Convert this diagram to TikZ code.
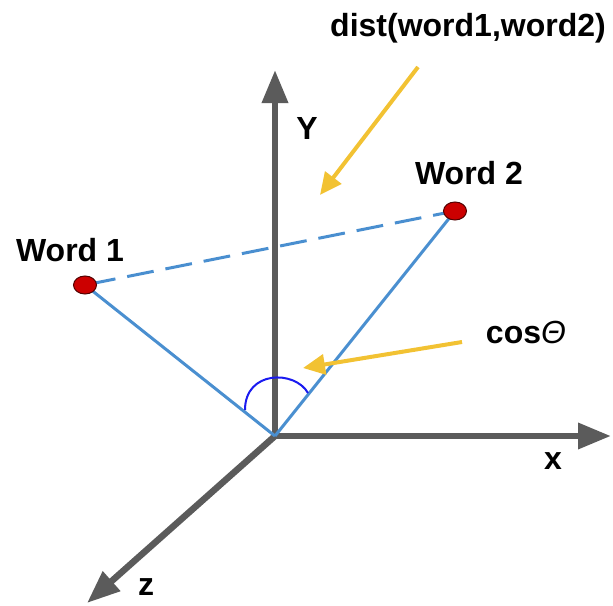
\documentclass[tikz,border=0pt]{standalone}
\usepackage{fontspec}
\setmainfont{Liberation Sans}
\usetikzlibrary{arrows.meta,shapes.geometric}
\definecolor{axisgray}{HTML}{5B5B5B}
\definecolor{vecblue}{HTML}{4A8FD0}
\definecolor{arcblue}{HTML}{1A1AF0}
\definecolor{arrowyellow}{HTML}{F2C233}
\definecolor{ptred}{HTML}{CC0000}
\tikzset{
  axis/.style={draw=axisgray, line width=6.5pt, -{Triangle[length=33pt,width=25pt]}},
  vec/.style={draw=vecblue, line width=3pt},
  distline/.style={vec, dash pattern=on 27pt off 12pt, dash phase=-4pt},
  pointer/.style={draw=arrowyellow, line width=4pt, -{Triangle[length=22pt,width=20pt]}},
  wordpt/.style={ellipse, fill=ptred, draw=black!60!ptred, line width=1pt, minimum width=23pt, minimum height=18pt, inner sep=0pt},
  lbl/.style={font=\fontsize{32}{38}\selectfont\bfseries, inner sep=0pt, text=black}
}
\begin{document}
\begin{tikzpicture}[x=1pt,y=-1pt]
\useasboundingbox (0,0) rectangle (613,605);
% origin and axis ends
\coordinate (O) at (275,436);
\coordinate (yend) at (275,70);
\coordinate (xend) at (611,436);
\coordinate (zend) at (87,603);
\draw[axis] (O) -- (yend);
\draw[axis] (O) -- (xend);
\draw[axis] (O) -- (zend);
% word points
\coordinate (p1) at (85,285);
\coordinate (p2) at (455,211);
\draw[vec] (O) -- (p1);
\draw[vec] (O) -- (p2);
\draw[distline] (p1) -- (p2);
% angle arc
\coordinate (a1) at (245,410);
\coordinate (a2) at (308,393);
\draw[draw=arcblue, line width=2pt] (a1) .. controls (245,370) and (295,370) .. (a2);
\node[wordpt] (w1) at (p1) {};
\node[wordpt] (w2) at (p2) {};
% labels
\node[lbl] (lw1) at (70,250) {Word 1};
\node[lbl] (lw2) at (469,173) {Word 2};
\node[lbl] (ly) at (307,128) {Y};
\node[lbl] (lx) at (553,461) {x};
\node[lbl] (lz) at (146,587) {z};
\node[lbl] (ldist) at (468,28) {dist(word1,word2)};
\node[lbl] (lcos) at (526,332) {cos{\mdseries\itshape Θ}};
% yellow pointers
\coordinate (d0) at (418,67);
\coordinate (d1) at (320,195);
\draw[pointer] (d0) -- (d1);
\coordinate (c0) at (462,342);
\coordinate (c1) at (303,368);
\draw[pointer] (c0) -- (c1);
\end{tikzpicture}
\end{document}
